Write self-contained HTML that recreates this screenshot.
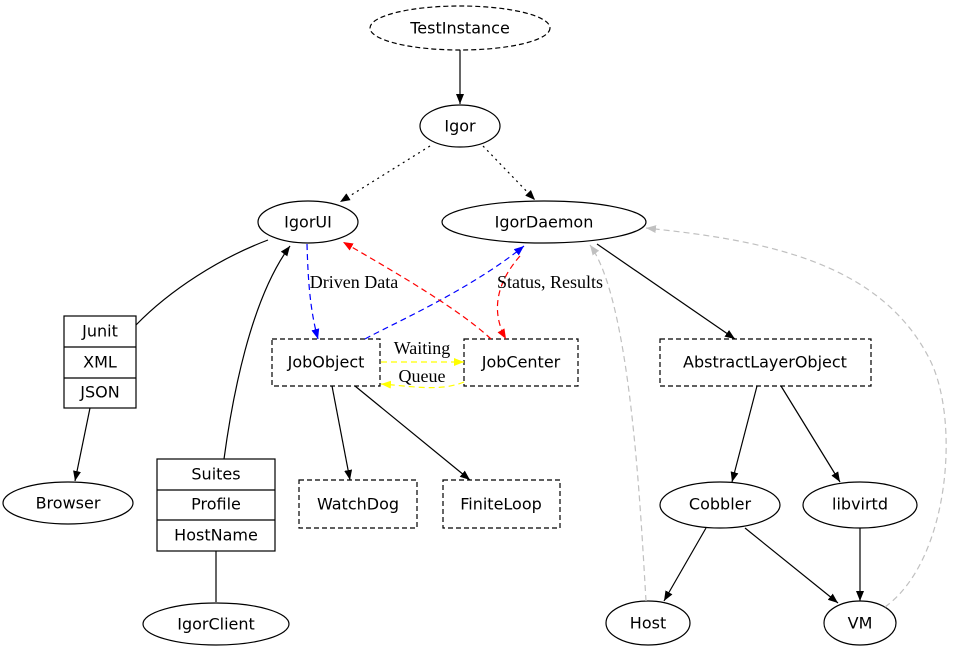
<!DOCTYPE html>
<html><head><meta charset="utf-8"><style>
html,body{margin:0;padding:0;background:#fff;}
svg{display:block;}
text{font-family:"DejaVu Sans","Liberation Sans",sans-serif;font-size:16px;text-anchor:middle;dominant-baseline:central;fill:#000;}
.l{font-family:"Liberation Serif",serif;font-size:18px;}
</style></head><body>
<svg width="957" height="655" viewBox="0 0 957 655" xmlns="http://www.w3.org/2000/svg">
<defs>
<marker id="k" markerWidth="10" markerHeight="8" refX="10" refY="4" orient="auto" markerUnits="userSpaceOnUse"><path d="M0,0L10,4L0,8z" fill="#000"/></marker>
<marker id="b" markerWidth="10" markerHeight="8" refX="10" refY="4" orient="auto" markerUnits="userSpaceOnUse"><path d="M0,0L10,4L0,8z" fill="#00f"/></marker>
<marker id="r" markerWidth="10" markerHeight="8" refX="10" refY="4" orient="auto" markerUnits="userSpaceOnUse"><path d="M0,0L10,4L0,8z" fill="#f00"/></marker>
<marker id="y" markerWidth="10" markerHeight="8" refX="10" refY="4" orient="auto" markerUnits="userSpaceOnUse"><path d="M0,0L10,4L0,8z" fill="#ff0"/></marker>
<marker id="g" markerWidth="10" markerHeight="8" refX="10" refY="4" orient="auto" markerUnits="userSpaceOnUse"><path d="M0,0L10,4L0,8z" fill="#c0c0c0"/></marker>
</defs>
<g fill="none" stroke="#000" stroke-width="1.2">
<ellipse cx="460" cy="28" rx="90" ry="22" stroke-dasharray="5,3"/>
<ellipse cx="460" cy="126" rx="40" ry="21"/>
<ellipse cx="308" cy="222" rx="50" ry="21"/>
<ellipse cx="544" cy="222" rx="102" ry="21"/>
<rect x="64" y="316" width="72" height="92"/>
<line x1="64" y1="347" x2="136" y2="347"/><line x1="64" y1="378" x2="136" y2="378"/>
<ellipse cx="68" cy="503" rx="65" ry="21"/>
<rect x="157" y="459" width="118" height="92"/>
<line x1="157" y1="490" x2="275" y2="490"/><line x1="157" y1="520" x2="275" y2="520"/>
<ellipse cx="216" cy="624" rx="73" ry="21"/>
<rect x="272" y="339" width="108" height="47" stroke-dasharray="5,3"/>
<rect x="464" y="339" width="114" height="47" stroke-dasharray="5,3"/>
<rect x="660" y="339" width="211" height="47" stroke-dasharray="5,3"/>
<rect x="299" y="480" width="118" height="48" stroke-dasharray="5,3"/>
<rect x="443" y="480" width="117" height="48" stroke-dasharray="5,3"/>
<ellipse cx="720" cy="505" rx="60" ry="23"/>
<ellipse cx="860" cy="505" rx="57" ry="23"/>
<ellipse cx="648" cy="623" rx="42" ry="22"/>
<ellipse cx="860" cy="623" rx="36" ry="22"/>
<path d="M460,50L460,104" marker-end="url(#k)"/>
<path d="M430,146L340,202" stroke-dasharray="2,4" marker-end="url(#k)"/>
<path d="M483,146L535,200" stroke-dasharray="2,4" marker-end="url(#k)"/>
<path d="M268,240C220,258 170,290 136,325"/>
<path d="M90,408L75,481" marker-end="url(#k)"/>
<path d="M224,459C232,400 250,300 290,246" marker-end="url(#k)"/>
<path d="M216,551L216,602"/>
<path d="M332,386L350,480" marker-end="url(#k)"/>
<path d="M355,386L470,480" marker-end="url(#k)"/>
<path d="M597,244L735,339" marker-end="url(#k)"/>
<path d="M757,386L732,482" marker-end="url(#k)"/>
<path d="M781,386L840,482" marker-end="url(#k)"/>
<path d="M706,528L664,601" marker-end="url(#k)"/>
<path d="M745,528L838,603" marker-end="url(#k)"/>
<path d="M860,528L860,601" marker-end="url(#k)"/>
<path d="M307,244C308,280 310,310 318,339" stroke="#00f" stroke-dasharray="6,4" marker-end="url(#b)"/>
<path d="M365,339C390,325 470,290 524,246" stroke="#00f" stroke-dasharray="6,4" marker-end="url(#b)"/>
<path d="M491,339C460,310 400,275 343,242" stroke="#f00" stroke-dasharray="6,4" marker-end="url(#r)"/>
<path d="M520,256C490,290 495,320 506,339" stroke="#f00" stroke-dasharray="6,4" marker-end="url(#r)"/>
<path d="M381,362L464,362" stroke="#ff0" stroke-dasharray="6,4" marker-end="url(#y)"/>
<path d="M464,382C440,392 410,386 381,384" stroke="#ff0" stroke-dasharray="6,4" marker-end="url(#y)"/>
<path d="M646,601C640,500 630,300 590,245" stroke="#c0c0c0" stroke-dasharray="6,4" marker-end="url(#g)"/>
<path d="M885,607C950,560 960,420 930,360C880,260 760,240 646,228" stroke="#c0c0c0" stroke-dasharray="6,4" marker-end="url(#g)"/>
</g>
<text x="460" y="28">TestInstance</text>
<text x="460" y="126">Igor</text>
<text x="308" y="222">IgorUI</text>
<text x="544" y="222">IgorDaemon</text>
<text x="100" y="331">Junit</text>
<text x="100" y="362">XML</text>
<text x="100" y="392">JSON</text>
<text x="68" y="503">Browser</text>
<text x="216" y="474">Suites</text>
<text x="216" y="504">Profile</text>
<text x="216" y="535">HostName</text>
<text x="216" y="624">IgorClient</text>
<text x="326" y="362">JobObject</text>
<text x="521" y="362">JobCenter</text>
<text x="765" y="362">AbstractLayerObject</text>
<text x="358" y="504">WatchDog</text>
<text x="501" y="504">FiniteLoop</text>
<text x="720" y="504">Cobbler</text>
<text x="860" y="504">libvirtd</text>
<text x="648" y="623">Host</text>
<text x="860" y="623">VM</text>
<text class="l" x="354" y="282">Driven Data</text>
<text class="l" x="550" y="282">Status, Results</text>
<text class="l" x="422" y="348">Waiting</text>
<text class="l" x="422" y="376">Queue</text>
</svg>
</body></html>
